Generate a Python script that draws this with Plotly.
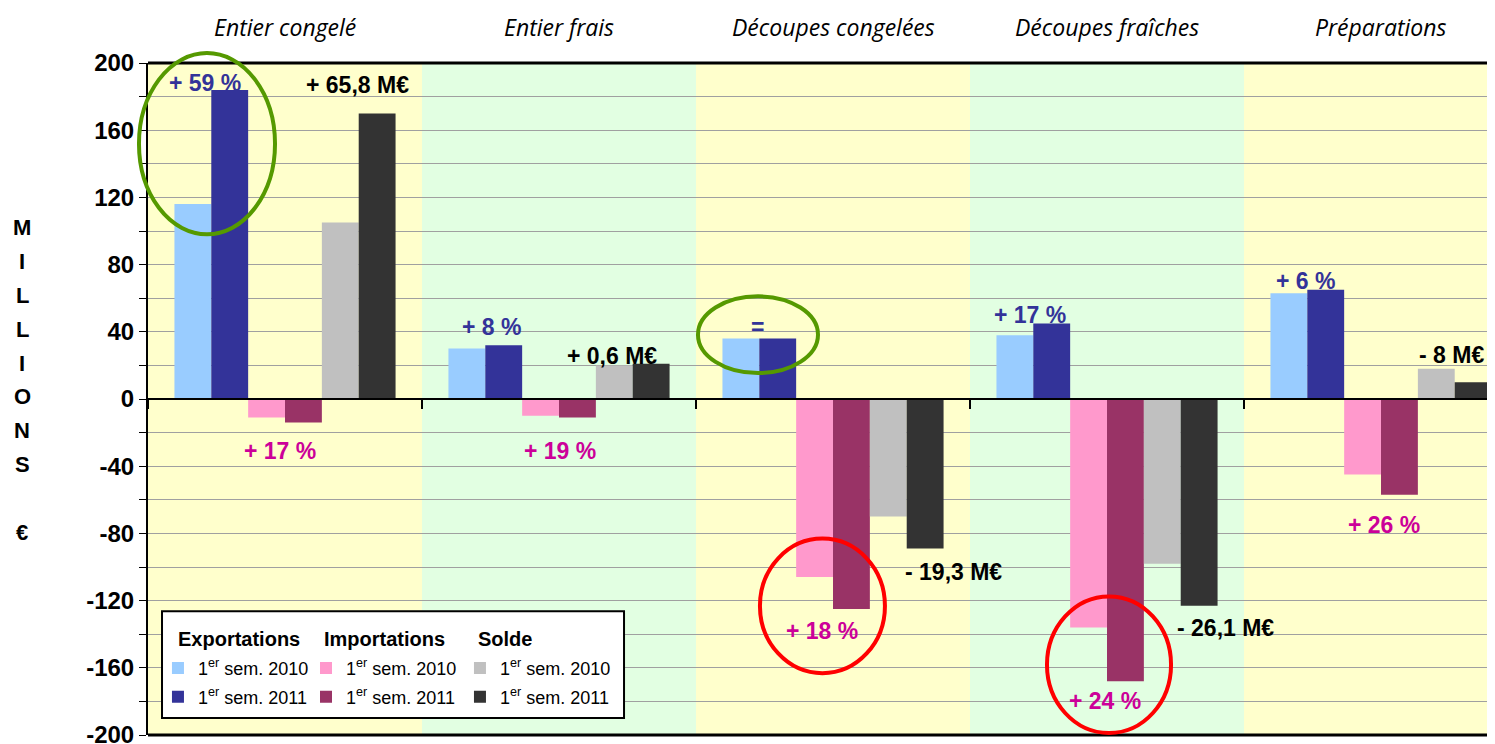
import plotly.graph_objects as go

# categories and values (millions of euros)
categories = ['Entier congelé', 'Entier frais', 'Découpes congelées', 'Découpes fraîches', 'Préparations']
export_2010 = [116, 30, 36, 38, 63]
export_2011 = [184, 32, 36, 45, 65]
import_2010 = [-11, -10, -106, -136, -45]
import_2011 = [-14, -11, -125, -168, -57]
solde_2010 = [105, 20, -70, -98, 18]
solde_2011 = [170, 21, -89, -123, 10]

y_tick_vals = [-200, -160, -120, -80, -40, 0, 40, 80, 120, 160, 200]
y_tick_text = ['-200', '-160', '-120', '-80', '-40', '0', '40', '80', '120', '160', '200']

serie_names = ['1<sup>er</sup> sem. 2010', '1<sup>er</sup> sem. 2011']
group_titles = ['Exportations', 'Importations', 'Solde']

label_texts = ['+ 59 %', '+ 65,8 M€', '+ 17 %',
               '+ 8 %', '+ 0,6 M€', '+ 19 %',
               '=', '- 19,3 M€', '+ 18 %',
               '+ 17 %', '- 26,1 M€', '+ 24 %',
               '+ 6 %', '- 8 M€', '+ 26 %']

BLUE_TXT = '#333399'
PINK_TXT = '#CC0099'
FONT = 'Liberation Sans, Arial'

fig = go.Figure()

# (values, colour, group index, year index)
series = [
    (export_2010, '#99CCFF', 0, 0),
    (export_2011, '#333399', 0, 1),
    (import_2010, '#FF99CC', 1, 0),
    (import_2011, '#993366', 1, 1),
    (solde_2010, '#C0C0C0', 2, 0),
    (solde_2011, '#333333', 2, 1),
]
group_x = [0.0074, 0.1173, 0.2316]     # legend column positions (paper)
year_y = [0.0994, 0.0564]              # legend row positions (paper)

legends = {}
for n, (vals, col, g, k) in enumerate(series):
    lg = 'legend' if n == 0 else 'legend%d' % (n + 1)
    fig.add_trace(go.Bar(x=categories, y=vals, name=serie_names[k],
                         marker=dict(color=col, line=dict(width=0)),
                         legend=lg))
    legends[lg] = dict(bgcolor='rgba(0,0,0,0)', borderwidth=0,
                       x=group_x[g], xanchor='left', y=year_y[k], yanchor='middle',
                       font=dict(family=FONT, size=18, color='black'),
                       itemclick=False, itemdoubleclick=False)

# background bands, one per category
shapes = []
for i in range(len(categories)):
    shapes.append(dict(type='rect', xref='x', yref='paper', x0=i - 0.5, x1=i + 0.5,
                       y0=0, y1=1, layer='below', line=dict(width=0),
                       fillcolor='#FFFFCC' if i % 2 == 0 else '#E2FFE2'))

# frame lines top / bottom
for yy in [0, 1]:
    shapes.append(dict(type='line', xref='paper', yref='paper', x0=0, x1=1, y0=yy, y1=yy,
                       line=dict(color='black', width=3)))

# highlight ellipses
ellipses = [((-0.0067, 0.745), (0.0943, 1.0148), '#559900'),
            ((0.4083, 0.5386), (0.4974, 0.6528), '#559900'),
            ((0.4543, 0.0920), (0.5471, 0.2923), '#FF0000'),
            ((0.6674, 0.0030), (0.7595, 0.2062), '#FF0000')]
for (x0, y0), (x1, y1), col in ellipses:
    shapes.append(dict(type='circle', xref='paper', yref='paper', x0=x0, x1=x1, y0=y0, y1=y1,
                       line=dict(color=col, width=4)))

# legend box
shapes.append(dict(type='rect', xref='paper', yref='paper', x0=0.0104, x1=0.3534,
                   y0=0.0252, y1=0.184, layer='above', fillcolor='white',
                   line=dict(color='black', width=2)))

annotations = []
# bar labels: (x position, y position, colour)
label_pos = [(-0.292, 188, BLUE_TXT), (0.263, 187, 'black'), (-0.018, -31, PINK_TXT),
             (0.755, 43, BLUE_TXT), (1.193, 25.5, 'black'), (1.004, -31, PINK_TXT),
             (1.723, 43, BLUE_TXT), (2.438, -103, 'black'), (1.96, -138, PINK_TXT),
             (2.719, 50, BLUE_TXT), (3.431, -136.5, 'black'), (2.993, -180, PINK_TXT),
             (3.723, 70, BLUE_TXT), (4.259, 26, 'black'), (4.011, -75, PINK_TXT)]
for txt, (xx, yy, col) in zip(label_texts, label_pos):
    annotations.append(dict(x=xx, y=yy, xref='x', yref='y', text=txt, showarrow=False,
                            xanchor='center', yanchor='middle',
                            font=dict(family=FONT, size=23, color=col, weight='bold')))

# category titles on top
for i, c in enumerate(categories):
    annotations.append(dict(x=i, y=1.053, xref='x', yref='paper', text=c, showarrow=False,
                            xanchor='center', yanchor='middle',
                            font=dict(family='Comic Sans MS, Open Sans', size=23,
                                      color='black', style='italic')))

# vertical axis title, letter by letter
letters = ['M', 'I', 'L', 'L', 'I', 'O', 'N', 'S', '', '€']
for k, ch in enumerate(letters):
    if ch:
        annotations.append(dict(x=-0.0935, y=0.755 - k * 0.0504, xref='paper', yref='paper',
                                text=ch, showarrow=False, xanchor='center', yanchor='middle',
                                font=dict(family=FONT, size=22, color='black', weight='bold')))

# legend group titles
for title, xx in zip(group_titles, [0.0208, 0.1292, 0.2435]):
    annotations.append(dict(x=xx, y=0.1424, xref='paper', yref='paper', text=title,
                            showarrow=False, xanchor='left', yanchor='middle',
                            font=dict(family=FONT, size=20, color='black', weight='bold')))

# page body adds an 8px offset, so the figure is 8px smaller
fig.update_layout(width=1487, height=736,
                  margin=dict(l=140, r=0, t=55, b=9, autoexpand=False),
                  paper_bgcolor='white', plot_bgcolor='white',
                  barmode='group', bargap=0.193, bargroupgap=0,
                  shapes=shapes, annotations=annotations,
                  showlegend=True, **legends)

fig.update_xaxes(range=[-0.5, 4.416], anchor='free', position=0.5,
                 showline=True, linecolor='black', linewidth=2,
                 ticks='outside', tickson='boundaries', ticklen=9, tickwidth=2,
                 tickcolor='black', showticklabels=False, showgrid=False, zeroline=False)

fig.update_yaxes(range=[-200, 200], tickvals=y_tick_vals, ticktext=y_tick_text,
                 ticklabeloverflow='allow', automargin=False,
                 showline=True, linecolor='black', linewidth=2,
                 ticks='outside', ticklen=7, tickwidth=1, tickcolor='black',
                 tickfont=dict(family=FONT, size=24, color='black', weight='bold'),
                 showgrid=True, gridcolor='#A0A0A0', gridwidth=1, zeroline=False,
                 minor=dict(dtick=20, ticks='outside', ticklen=7, tickcolor='black',
                            showgrid=True, gridcolor='#A0A0A0', gridwidth=1))

fig.write_html('out.html')
